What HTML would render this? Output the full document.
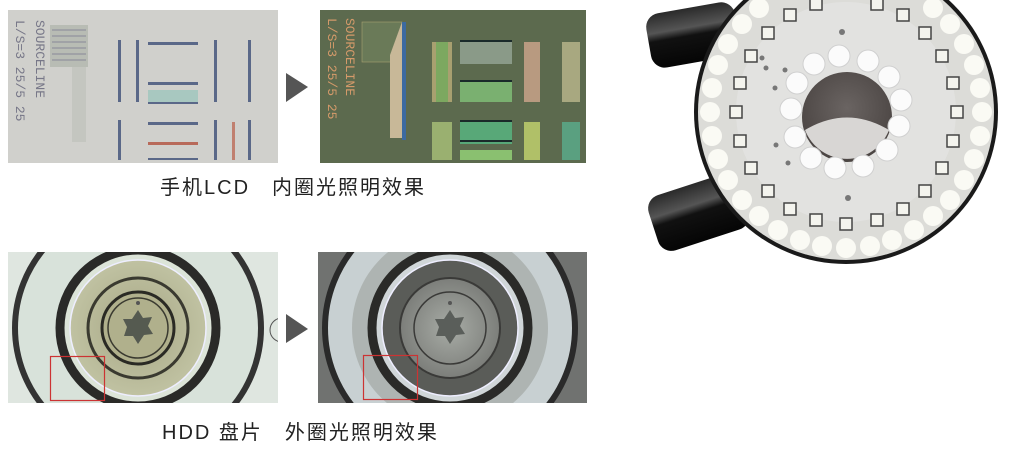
<!DOCTYPE html>
<html><head><meta charset="utf-8"><style>
html,body{margin:0;padding:0;background:#fff;width:1010px;height:467px;overflow:hidden}
svg{display:block}
.cap{font-family:"Liberation Sans","Noto Sans CJK SC",sans-serif;font-size:20px;fill:#222;letter-spacing:2px}
</style></head><body>
<svg width="1010" height="467" viewBox="0 0 1010 467" xmlns="http://www.w3.org/2000/svg">
<defs>
<radialGradient id="glow" cx="50%" cy="50%" r="50%"><stop offset="0" stop-color="#fff"/><stop offset="1" stop-color="#eaece6"/></radialGradient>
<radialGradient id="hole" cx="50%" cy="40%" r="60%"><stop offset="0" stop-color="#6a6462"/><stop offset="1" stop-color="#4a4442"/></radialGradient>
<linearGradient id="cyl" x1="0" y1="0" x2="0" y2="1"><stop offset="0" stop-color="#2a2a2a"/><stop offset=".35" stop-color="#555"/><stop offset=".5" stop-color="#111"/><stop offset="1" stop-color="#050505"/></linearGradient>
<radialGradient id="hddL" cx="50%" cy="50%" r="50%"><stop offset="0" stop-color="#a6a684"/><stop offset="1" stop-color="#c0c2a2"/></radialGradient>
<radialGradient id="hddR" cx="50%" cy="50%" r="50%"><stop offset="0" stop-color="#a8aca6"/><stop offset="1" stop-color="#7c7e7a"/></radialGradient>
<clipPath id="t1"><rect x="8" y="10" width="270" height="153"/></clipPath>
<clipPath id="t2"><rect x="320" y="10" width="266" height="153"/></clipPath>
<clipPath id="c1"><rect x="8" y="252" width="270" height="151"/></clipPath>
<clipPath id="c2"><rect x="318" y="252" width="269" height="151"/></clipPath>
</defs>

<!-- top-left LCD -->
<g clip-path="url(#t1)">
<rect x="8" y="10" width="270" height="153" fill="#d0d0cc"/>
<rect x="50" y="25" width="38" height="42" fill="#b8bcb4"/>
<g stroke="#889" stroke-width="1">
<line x1="52" y1="30" x2="86" y2="30"/><line x1="52" y1="36" x2="86" y2="36"/><line x1="52" y1="42" x2="86" y2="42"/><line x1="52" y1="48" x2="86" y2="48"/><line x1="52" y1="54" x2="86" y2="54"/><line x1="52" y1="60" x2="86" y2="60"/></g>
<rect x="72" y="67" width="14" height="75" fill="#c4c6c0"/>
<text transform="translate(36,20) rotate(90)" font-family="Liberation Mono,monospace" font-size="13" fill="#778">SOURCELINE</text>
<text transform="translate(16,20) rotate(90)" font-family="Liberation Mono,monospace" font-size="13" fill="#778">L/S=3 25/5 25</text>
<g fill="#5a6888">
<rect x="118" y="40" width="3" height="62"/><rect x="136" y="40" width="3" height="62"/>
<rect x="148" y="42" width="50" height="3"/><rect x="148" y="82" width="50" height="3"/><rect x="148" y="102" width="50" height="2"/>
<rect x="214" y="40" width="3" height="62"/><rect x="248" y="40" width="3" height="62"/>
<rect x="118" y="120" width="3" height="40"/><rect x="148" y="122" width="50" height="3"/><rect x="148" y="158" width="50" height="2"/>
<rect x="214" y="120" width="3" height="40"/><rect x="248" y="120" width="3" height="40"/>
</g>
<rect x="148" y="90" width="50" height="12" fill="#a8c8c0"/>
<rect x="148" y="142" width="50" height="3" fill="#b86a5a"/>
<rect x="232" y="122" width="3" height="38" fill="#c08070"/>
</g>

<polygon points="286,73 286,102 308,87" fill="#555"/>

<!-- top-right LCD -->
<g clip-path="url(#t2)">
<rect x="320" y="10" width="266" height="153" fill="#5c6a4e"/>
<rect x="362" y="22" width="40" height="40" fill="#6a7a58" stroke="#a8a070" stroke-width=".6"/>
<polygon points="390,55 402,22 402,138 390,138" fill="#c8b898"/>
<rect x="402" y="22" width="4" height="118" fill="#3c6aa0"/>
<text transform="translate(346,18) rotate(90)" font-family="Liberation Mono,monospace" font-size="13" fill="#d49a6a">SOURCELINE</text>
<text transform="translate(328,18) rotate(90)" font-family="Liberation Mono,monospace" font-size="13" fill="#d49a6a">L/S=3 25/5 25</text>
<rect x="432" y="42" width="20" height="60" fill="#a8a070"/><rect x="436" y="42" width="12" height="60" fill="#7ca860"/>
<rect x="460" y="42" width="52" height="22" fill="#8a9a88"/><rect x="460" y="82" width="52" height="20" fill="#7ab070"/>
<rect x="524" y="42" width="16" height="60" fill="#b89a80"/><rect x="562" y="42" width="18" height="60" fill="#a8a880"/>
<rect x="432" y="122" width="20" height="38" fill="#9ab070"/>
<rect x="460" y="122" width="52" height="22" fill="#58a878"/><rect x="460" y="150" width="52" height="10" fill="#8ac070"/>
<rect x="524" y="122" width="16" height="38" fill="#b0c068"/><rect x="562" y="122" width="18" height="38" fill="#5aa080"/>
<g fill="#1a2a2a"><rect x="460" y="40" width="52" height="2"/><rect x="460" y="80" width="52" height="2"/><rect x="460" y="120" width="52" height="2"/><rect x="460" y="140" width="52" height="2"/></g>
</g>

<text class="cap" x="160" y="194">手机LCD　内圈光照明效果</text>

<!-- bottom-left HDD -->
<g clip-path="url(#c1)">
<rect x="8" y="252" width="270" height="151" fill="#dfe6e0"/>
<circle cx="138" cy="328" r="123" fill="#d8e2da" stroke="#333" stroke-width="6"/>
<circle cx="138" cy="328" r="78" fill="#dce4d8" stroke="#2a2a28" stroke-width="9"/>
<circle cx="138" cy="328" r="68" fill="url(#hddL)" stroke="#eef" stroke-width="1.5"/>
<circle cx="138" cy="328" r="50" fill="none" stroke="#3a3a30" stroke-width="3"/>
<circle cx="138" cy="328" r="36" fill="#b0b08c" stroke="#2a2a24" stroke-width="3"/>
<circle cx="138" cy="328" r="30" fill="none" stroke="#3a3a30" stroke-width="1.5"/>
<path d="M138,310 l5,8 9,-1 -4,9 5,8 -9,1 -6,9 -5,-8 -9,0 3,-9 -4,-8 9,0z" fill="#555a50"/>
<circle cx="138" cy="303" r="2" fill="#555"/>
<circle cx="282" cy="330" r="12" fill="none" stroke="#555" stroke-width="1"/>
</g>
<rect x="50.5" y="356.5" width="54" height="44" fill="none" stroke="#c33" stroke-width="1.2"/>

<polygon points="286,314 286,343 308,329" fill="#555"/>

<!-- bottom-right HDD -->
<g clip-path="url(#c2)">
<rect x="318" y="252" width="269" height="151" fill="#707270"/>
<circle cx="450" cy="328" r="125" fill="#c8d0d2" stroke="#2a2a2a" stroke-width="6"/>
<circle cx="450" cy="328" r="98" fill="#aeb4b2"/>
<circle cx="450" cy="328" r="78" fill="#d0d6d8" stroke="#2a2a28" stroke-width="9"/>
<circle cx="450" cy="328" r="68" fill="#5a5c58" stroke="#eef" stroke-width="1.5"/>
<circle cx="450" cy="328" r="50" fill="url(#hddR)" stroke="#3a3a38" stroke-width="2"/>
<circle cx="450" cy="328" r="36" fill="none" stroke="#3a3a38" stroke-width="1.5"/>
<path d="M450,310 l5,8 9,-1 -4,9 5,8 -9,1 -6,9 -5,-8 -9,0 3,-9 -4,-8 9,0z" fill="#5a5e5a"/>
<circle cx="450" cy="303" r="2" fill="#555"/>
</g>
<rect x="363.5" y="355.5" width="54" height="44" fill="none" stroke="#c33" stroke-width="1.2"/>

<text class="cap" x="162" y="439">HDD 盘片　外圈光照明效果</text>

<!-- ring light -->
<g transform="rotate(-10 690 35)"><rect x="648" y="8" width="90" height="55" rx="14" fill="url(#cyl)"/></g>
<g transform="rotate(-18 700 215)"><rect x="652" y="183" width="95" height="58" rx="14" fill="url(#cyl)"/></g>
<circle cx="846" cy="112" r="152" fill="#1a1a1a"/>
<circle cx="846" cy="112" r="148" fill="#dcdcd8"/>
<circle cx="846" cy="112" r="110" fill="#e2e2e0"/>
<g fill="#fafaf4">
<circle cx="982" cy="112" r="10"/><circle cx="980" cy="136" r="10"/><circle cx="974" cy="159" r="10"/><circle cx="964" cy="180" r="10"/><circle cx="950" cy="200" r="10"/><circle cx="933" cy="216" r="10"/><circle cx="914" cy="230" r="10"/><circle cx="892" cy="240" r="10"/><circle cx="870" cy="246" r="10"/><circle cx="846" cy="248" r="10"/><circle cx="822" cy="246" r="10"/><circle cx="800" cy="240" r="10"/><circle cx="778" cy="230" r="10"/><circle cx="759" cy="216" r="10"/><circle cx="742" cy="200" r="10"/><circle cx="728" cy="180" r="10"/><circle cx="718" cy="159" r="10"/><circle cx="712" cy="136" r="10"/><circle cx="710" cy="112" r="10"/><circle cx="712" cy="88" r="10"/><circle cx="718" cy="65" r="10"/><circle cx="728" cy="44" r="10"/><circle cx="742" cy="24" r="10"/><circle cx="759" cy="8" r="10"/><circle cx="933" cy="8" r="10"/><circle cx="950" cy="24" r="10"/><circle cx="964" cy="44" r="10"/><circle cx="974" cy="65" r="10"/><circle cx="980" cy="88" r="10"/>
</g>
<g fill="#f4f4ee" stroke="#444" stroke-width="1.5">
<rect x="951" y="106" width="12" height="12"/><rect x="947" y="135" width="12" height="12"/><rect x="936" y="162" width="12" height="12"/><rect x="919" y="185" width="12" height="12"/><rect x="897" y="203" width="12" height="12"/><rect x="871" y="214" width="12" height="12"/><rect x="840" y="218" width="12" height="12"/><rect x="810" y="214" width="12" height="12"/><rect x="784" y="203" width="12" height="12"/><rect x="762" y="185" width="12" height="12"/><rect x="745" y="162" width="12" height="12"/><rect x="734" y="135" width="12" height="12"/><rect x="730" y="106" width="12" height="12"/><rect x="734" y="77" width="12" height="12"/><rect x="745" y="50" width="12" height="12"/><rect x="762" y="27" width="12" height="12"/><rect x="784" y="9" width="12" height="12"/><rect x="810" y="-2" width="12" height="12"/><rect x="871" y="-2" width="12" height="12"/><rect x="897" y="9" width="12" height="12"/><rect x="919" y="27" width="12" height="12"/><rect x="936" y="50" width="12" height="12"/><rect x="947" y="77" width="12" height="12"/>
</g>
<circle cx="847" cy="117" r="45" fill="url(#hole)"/>
<path d="M805,130 Q847,105 889,130 A45 45 0 0 1 805,130z" fill="#d8d6d4"/>
<g fill="#fbfbfb" stroke="#d0d0d0" stroke-width="1">
<circle cx="839" cy="56" r="11"/><circle cx="868" cy="61" r="11"/><circle cx="889" cy="77" r="11"/><circle cx="901" cy="100" r="11"/><circle cx="899" cy="126" r="11"/><circle cx="887" cy="150" r="11"/><circle cx="863" cy="166" r="11"/><circle cx="835" cy="168" r="11"/><circle cx="811" cy="158" r="11"/><circle cx="795" cy="137" r="11"/><circle cx="791" cy="109" r="11"/><circle cx="797" cy="83" r="11"/><circle cx="814" cy="64" r="11"/>
</g>
<g fill="#777"><circle cx="842" cy="32" r="3"/><circle cx="848" cy="198" r="3"/><circle cx="785" cy="70" r="2.5"/><circle cx="775" cy="88" r="2.5"/><circle cx="776" cy="145" r="2.5"/><circle cx="788" cy="163" r="2.5"/><circle cx="762" cy="58" r="2.5"/><circle cx="766" cy="68" r="2.5"/></g>
</svg>
</body></html>
